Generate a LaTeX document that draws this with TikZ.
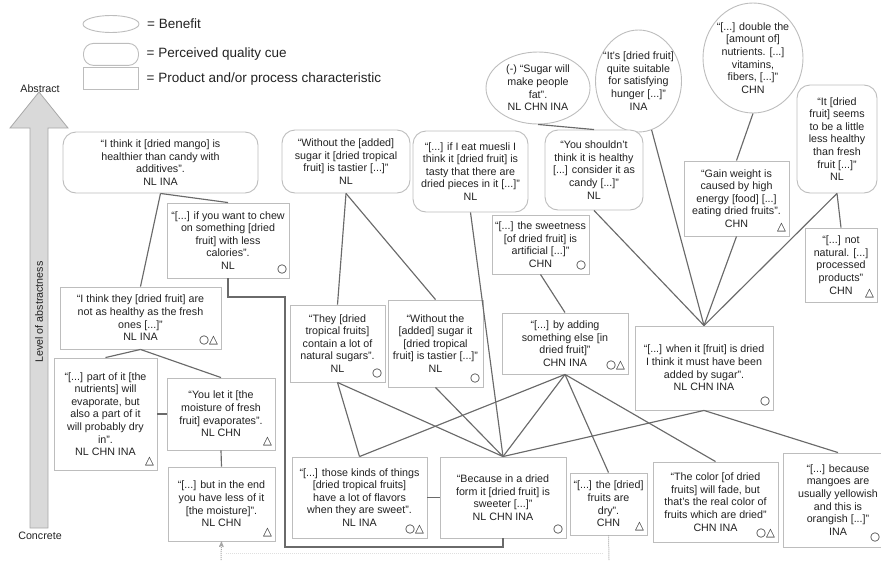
\documentclass[tikz,border=0pt]{standalone}
\usepackage{fontspec}
\setmainfont{Liberation Sans}
\newfontfamily\symfont{DejaVu Sans}
\usetikzlibrary{shapes,arrows,positioning,calc}

\definecolor{boxline}{HTML}{BDBDBD}
\definecolor{linkgray}{HTML}{6A6A6A}
\definecolor{txtgray}{HTML}{222222}
\definecolor{arrowfill}{HTML}{D9D9D9}
\definecolor{arrowline}{HTML}{A8A8A8}

\begin{document}
\begin{tikzpicture}[x=1pt, y=-1pt, >=stealth', thick,
    every node/.style={font=\fontsize{10.7}{12.6}\selectfont, text=txtgray},
    benefit/.style={draw=boxline, fill=white, ellipse, align=center, inner sep=-10pt, line width=0.9pt},
    cue/.style={draw=boxline, fill=white, rectangle, rounded corners=13pt, align=center, inner sep=2pt, line width=0.9pt},
    prodbox/.style={draw=boxline, fill=white, rectangle, align=center, inner sep=2pt, line width=0.9pt},
    sym/.style={anchor=south east, inner sep=0pt, font=\symfont\fontsize{11.5}{11.5}\selectfont},
    link/.style={draw=linkgray, line width=1.15pt},
    feed/.style={draw=gray!70, densely dotted, line width=1pt},
    legtext/.style={anchor=west, font=\fontsize{13.5}{15}\selectfont}]
    \useasboundingbox (0,0) rectangle (881,560);

    % Legend
    \node[benefit, minimum width=56pt, minimum height=17pt] (legB) at (111,24) {};
    \node[cue, minimum width=55pt, minimum height=22pt, rounded corners=10pt, below=10pt of legB] (legQ) {};
    \node[prodbox, minimum width=55pt, minimum height=22pt, below=1.5pt of legQ] (legP) {};
    \node[legtext, right=4pt of legB] (legBt) {= Benefit};
    \node[legtext, right=4pt of legQ] (legQt) {= Perceived quality cue};
    \node[legtext, right=4pt of legP] (legPt) {= Product and/or process characteristic};

    % Level of abstractness
    \draw[draw=arrowline, fill=arrowfill, line width=0.8pt]
        (30,528) -- (30,128) -- (10,128) -- (39,92) -- (68,128) -- (48,128) -- (48,528) -- cycle;
    \node (abst) at (40,89) {Abstract};
    \node (conc) at (40,536) {Concrete};
    \node[rotate=90] (lvl) at (39,312) {Level of abstractness};

    % Benefits
    \node[benefit, minimum width=104pt, minimum height=72pt] (e1) at (538,88) {(-) “Sugar will\\make people\\fat”.\\NL CHN INA};
    \node[benefit, minimum width=86pt, minimum height=102pt] (e2) at (638.5,81) {“It's [dried fruit]\\quite suitable\\for satisfying\\hunger [...]”\\INA};
    \node[benefit, minimum width=100pt, minimum height=110pt] (e3) at (753,58) {“[...] double the\\{}[amount of]\\nutrients. [...]\\vitamins,\\fibers, [...]”\\CHN};

    % Perceived quality cues
    \node[cue, minimum width=195pt, minimum height=61pt] (a1) at (160.5,162.5) {“I think it [dried mango] is\\healthier than candy with\\additives”.\\NL INA};
    \node[cue, minimum width=128pt, minimum height=63pt] (a2) at (346,161.5) {“Without the [added]\\sugar it [dried tropical\\fruit] is tastier [...]”\\NL};
    \node[cue, minimum width=115pt, minimum height=81pt] (a3) at (470.5,171.5) {“[...] if I eat muesli I\\think it [dried fruit] is\\tasty that there are\\dried pieces in it [...]”\\NL};
    \node[cue, minimum width=98pt, minimum height=80pt] (a4) at (594,170) {“You shouldn't\\think it is healthy\\{}[...] consider it as\\candy [...]”\\NL};
    \node[cue, minimum width=80pt, minimum height=108pt] (a5) at (837,139) {“It [dried\\fruit] seems\\to be a little\\less healthy\\than fresh\\fruit [...]”\\NL};

    % Product and/or process characteristics
    \node[prodbox, minimum width=122pt, minimum height=75pt] (r1) at (228,240.5) {“[...] if you want to chew\\on something [dried\\fruit] with less\\calories”.\\NL};
    \node[prodbox, minimum width=161pt, minimum height=62pt] (r2) at (140.5,318) {“I think they [dried fruit] are\\not as healthy as the fresh\\ones [...]”\\NL INA};
    \node[prodbox, minimum width=103pt, minimum height=112pt] (r3) at (105.5,414) {“[...] part of it [the\\nutrients] will\\evaporate, but\\also a part of it\\will probably dry\\in”.\\NL CHN INA};
    \node[prodbox, minimum width=108pt, minimum height=72pt] (r4) at (221,414) {“You let it [the\\moisture of fresh\\fruit] evaporates”.\\NL CHN};
    \node[prodbox, minimum width=107pt, minimum height=74pt] (r5) at (221.5,504) {“[...] but in the end\\you have less of it\\{}[the moisture]”.\\NL CHN};
    \node[prodbox, minimum width=95pt, minimum height=77pt] (r6) at (337.5,343.5) {“They [dried\\tropical fruits]\\contain a lot of\\natural sugars”.\\NL};
    \node[prodbox, minimum width=95pt, minimum height=87pt] (r7) at (435.5,343.5) {“Without the\\{}[added] sugar it\\{}[dried tropical\\fruit] is tastier [...]”\\NL};
    \node[prodbox, minimum width=97pt, minimum height=59pt] (r8) at (540.5,244.5) {“[...] the sweetness\\{}[of dried fruit] is\\artificial [...]”\\CHN};
    \node[prodbox, minimum width=126pt, minimum height=61pt] (r9) at (565,343.5) {“[...] by adding\\something else [in\\dried fruit]”\\CHN INA};
    \node[prodbox, minimum width=105pt, minimum height=75pt] (r10) at (736.5,198.5) {“Gain weight is\\caused by high\\energy [food] [...]\\eating dried fruits”.\\CHN};
    \node[prodbox, minimum width=72pt, minimum height=74pt] (r11) at (841,265) {“[...] not\\natural. [...]\\processed\\products”\\CHN};
    \node[prodbox, minimum width=138pt, minimum height=84pt] (r12) at (704,368) {“[...] when it [fruit] is dried\\I think it must have been\\added by sugar”.\\NL CHN INA};
    \node[prodbox, minimum width=135pt, minimum height=81pt] (r13) at (359.5,497.5) {“[...] those kinds of things\\{}[dried tropical fruits]\\have a lot of flavors\\when they are sweet”.\\NL INA};
    \node[prodbox, minimum width=126pt, minimum height=81pt] (r14) at (503,497.5) {“Because in a dried\\form it [dried fruit] is\\sweeter [...]”\\NL CHN INA};
    \node[prodbox, minimum width=77pt, minimum height=62pt] (r15) at (608.5,504) {“[...] the [dried]\\fruits are\\dry”.\\CHN};
    \node[prodbox, minimum width=125pt, minimum height=80pt] (r16) at (715.5,502) {“The color [of dried\\fruits] will fade, but\\that's the real color of\\fruits which are dried”\\CHN INA};
    \node[prodbox, minimum width=110pt, minimum height=94pt] (r17) at (838,500) {“[...] because\\mangoes are\\usually yellowish\\and this is\\orangish [...]”\\INA};

    % Circles and triangles
    \node[sym] (r1s) at ($(r1.south east)+(-2,-4)$) {○};
    \node[sym] (r2s) at ($(r2.south east)+(-3,-4)$) {○△};
    \node[sym] (r3s) at ($(r3.south east)+(-3,-4)$) {△};
    \node[sym] (r4s) at ($(r4.south east)+(-3,-4)$) {△};
    \node[sym] (r5s) at ($(r5.south east)+(-3,-4)$) {△};
    \node[sym] (r6s) at ($(r6.south east)+(-3,-4)$) {○};
    \node[sym] (r7s) at ($(r7.south east)+(-3,-4)$) {○};
    \node[sym] (r8s) at ($(r8.south east)+(-3,-4)$) {○};
    \node[sym] (r9s) at ($(r9.south east)+(-3,-4)$) {○△};
    \node[sym] (r10s) at ($(r10.south east)+(-3,-4)$) {△};
    \node[sym] (r11s) at ($(r11.south east)+(-3,-4)$) {△};
    \node[sym] (r12s) at ($(r12.south east)+(-3,-4)$) {○};
    \node[sym] (r13s) at ($(r13.south east)+(-3,-4)$) {○△};
    \node[sym] (r14s) at ($(r14.south east)+(-3,-4)$) {○};
    \node[sym] (r15s) at ($(r15.south east)+(-3,-4)$) {△};
    \node[sym] (r16s) at ($(r16.south east)+(-3,-4)$) {○△};
    \node[sym] (r17s) at ($(r17.south east)+(-13,-5)$) {○};

    % Links
    \draw[link] (e1.south) -- (a4.north);
    \draw[link] (a4.south) -- (r12.north);
    \draw[link] (e2.-75) -- (r12.north);
    \draw[link] (e3.south) -- (r10.north);
    \draw[link] (r10.south) -- (r12.north);
    \draw[link] (a5.south) -- (r12.north);
    \draw[link] (a5.south) -- (r11.north);
    \draw[link] (r8.south) -- (r9.north);
    \draw[link] (a1.south) -- (r2.north);
    \draw[link] (a1.south) -- (r1.north);
    \draw[link] (r2.south) -- (r3.north);
    \draw[link] (r2.south) -- (r4.north);
    \draw[link] (r3.east) -- (r4.west);
    \draw[link] (r4.south) -- (r5.north);
    \draw[link] (a2.south) -- (r6.north);
    \draw[link] (a2.south) -- (r7.north);
    \draw[link] (a3.south) -- (r14.north);
    \draw[link] (r6.south) -- (r13.north);
    \draw[link] (r6.south) -- (r14.north);
    \draw[link] (r7.south) -- (r14.north);
    \draw[link] (r9.south) -- (r13.north);
    \draw[link] (r9.south) -- (r14.north);
    \draw[link] (r9.south) -- (r15.north);
    \draw[link] (r9.south) -- (r16.north);
    \draw[link] (r12.south) -- (r14.north);
    \draw[link] (r12.south) -- (r17.north);
    \draw[link] (r13.east) -- (r14.west);
    \coordinate (bendA) at (285,297);
    \coordinate (bendB) at (285,547);
    \draw[link] (r1.south) |- (bendA) -- (bendB) -| (r14.south);

    % Continuation below
    \coordinate (inA) at (221,560);
    \coordinate (outB) at (609,560);
    \coordinate (tailA) at (226,553);
    \coordinate (tailB) at (604,553);
    \draw[feed, ->] (inA) -- (r5.south);
    \draw[feed] (r15.south) -- (outB);
    \draw[feed, draw=gray!25] (tailA) -- (tailB);
\end{tikzpicture}
\end{document}
